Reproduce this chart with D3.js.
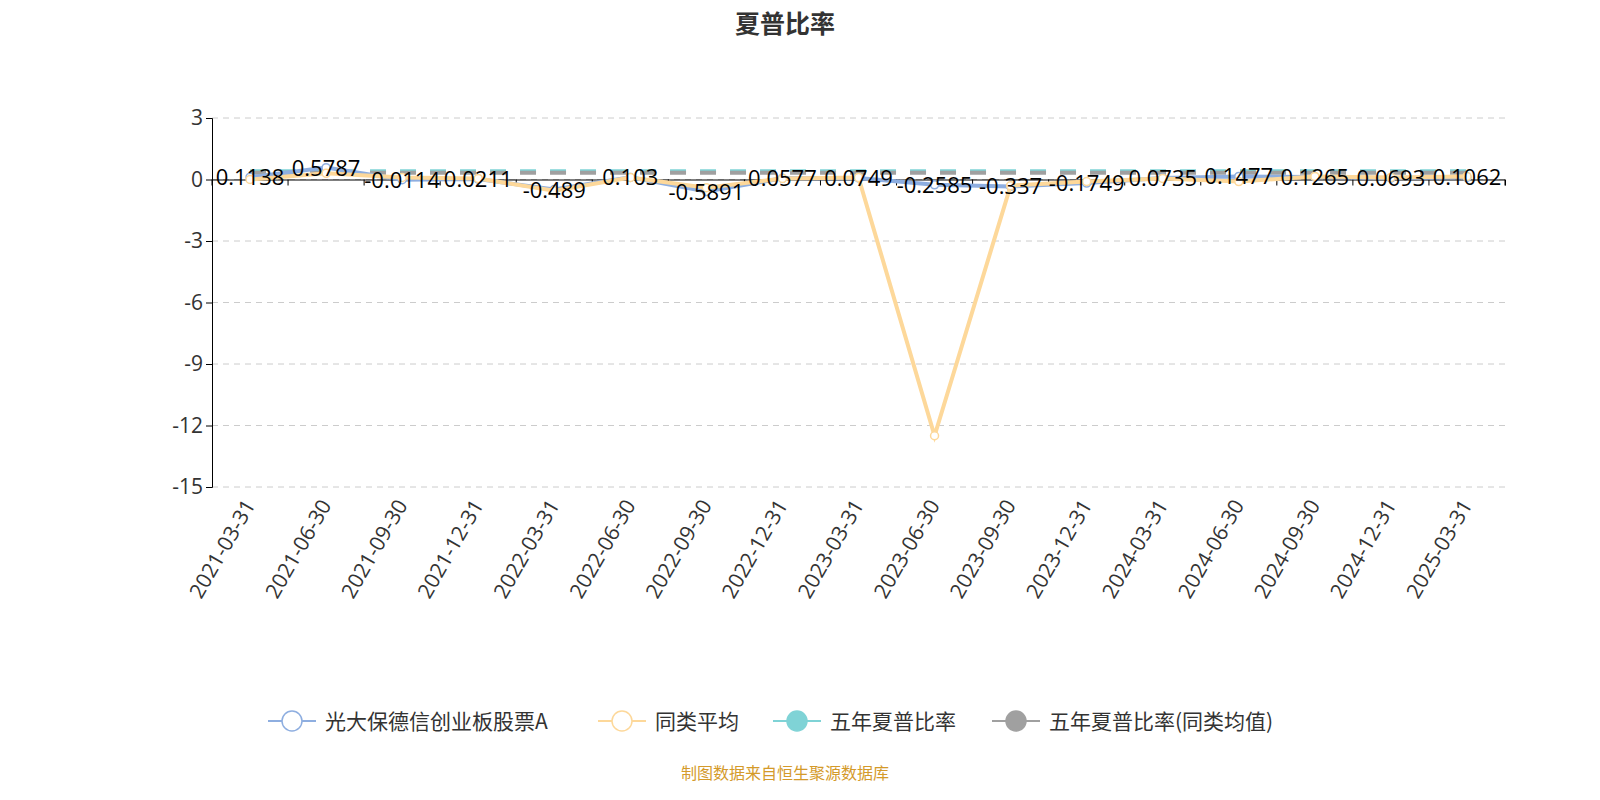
<!DOCTYPE html>
<html><head><meta charset="utf-8">
<script src="https://cdn.jsdelivr.net/npm/d3@7"></script>
<style>body{margin:0;background:#fff;font-family:"Noto Sans CJK SC","Noto Sans",sans-serif}</style>
</head><body><svg id="c" width="1600" height="800"></svg>
<script>
const dates = ["2021-03-31","2021-06-30","2021-09-30","2021-12-31","2022-03-31","2022-06-30","2022-09-30","2022-12-31","2023-03-31","2023-06-30","2023-09-30","2023-12-31","2024-03-31","2024-06-30","2024-09-30","2024-12-31","2025-03-31"];
const fund = [0.1138,0.5787,-0.0114,0.0211,-0.489,0.103,-0.5891,0.0577,0.0749,-0.2585,-0.337,-0.1749,0.0735,0.1477,0.1265,0.0693,0.1062];
const peer = [0.0,0.3,0.1,0.05,-0.55,0.1,-0.4,0.05,0.1,-12.5,-0.3,-0.1,0.05,-0.1,0.15,0.1,0.15];
const fiveYear = 0.4;
const fiveYearPeer = 0.33;
const yTicks = [3,0,-3,-6,-9,-12,-15];
const legendNames = ["光大保德信创业板股票A","同类平均","五年夏普比率","五年夏普比率(同类均值)"];
const colors = ["#8eaee0","#fdd89a","#7fd3d6","#a0a0a0"];

const svg = d3.select("#c");
const L = 212, R = 1505, T = 118, B = 487;
const x = d3.scaleBand().domain(dates).range([L, R]);
const y = d3.scaleLinear().domain([-15, 3]).range([B, T]);
const cx = d => x(d) + x.bandwidth() / 2;

svg.append("text").attr("x", 785).attr("y", 33).attr("text-anchor", "middle")
  .attr("font-size", 25).attr("font-weight", "bold").attr("fill", "#333").text("夏普比率");

// grid
svg.selectAll(".g").data(yTicks).join("line")
  .attr("x1", L).attr("x2", R).attr("y1", d => y(d)).attr("y2", d => y(d))
  .attr("stroke", "#ccc").attr("stroke-dasharray", "6,5");

const ya = svg.append("g").attr("transform", `translate(${L},0)`)
  .call(d3.axisLeft(y).tickValues(yTicks).tickSize(6).tickFormat(d => String(d)));
ya.selectAll("text").attr("font-size", 21).attr("fill", "#333").attr("font-family", "Open Sans, sans-serif");
ya.selectAll("line,path").attr("stroke", "#000");

const xa = svg.append("g").attr("transform", `translate(0,${y(0)})`)
  .call(d3.axisBottom(x).tickSize(6).tickFormat(""));
xa.selectAll("line,path").attr("stroke", "#000");
xa.selectAll(".tick line").attr("transform", `translate(${x.bandwidth()/2},0)`);
xa.append("line").attr("x1", L).attr("x2", L).attr("y1", 0).attr("y2", 6).attr("stroke", "#000");

svg.selectAll(".xl").data(dates).join("text")
  .attr("transform", d => `translate(${cx(d) + 6},${B + 18}) rotate(-60)`)
  .attr("text-anchor", "end").attr("font-size", 21).attr("fill", "#333")
  .attr("font-family", "Open Sans, sans-serif").text(d => d);

// five-year dashed lines
[[fiveYear, colors[2]], [fiveYearPeer, colors[3]]].forEach(([v, c]) => {
  svg.append("line").attr("x1", cx(dates[0])).attr("x2", cx(dates[dates.length-1]))
    .attr("y1", y(v)).attr("y2", y(v)).attr("stroke", c).attr("stroke-width", 4)
    .attr("stroke-dasharray", "16,14");
});

const line = d3.line().x((d, i) => cx(dates[i])).y(d => y(d));
[[fund, colors[0]], [peer, colors[1]]].forEach(([s, c]) => {
  svg.append("path").datum(s).attr("d", line).attr("fill", "none").attr("stroke", c).attr("stroke-width", 4);
  svg.selectAll(null).data(s).join("circle").attr("cx", (d, i) => cx(dates[i])).attr("cy", d => y(d))
    .attr("r", 4).attr("fill", "#fff").attr("stroke", c).attr("stroke-width", 1.5);
});

svg.selectAll(".lab").data(fund).join("text")
  .attr("x", (d, i) => cx(dates[i])).attr("y", d => y(d) + 8)
  .attr("text-anchor", "middle").attr("font-size", 22).attr("fill", "#000")
  .attr("font-family", "Open Sans, sans-serif").text(d => d);

// legend
const lx = [268, 598, 773, 992];
legendNames.forEach((n, i) => {
  const g = svg.append("g").attr("transform", `translate(${lx[i]},721)`);
  g.append("line").attr("x1", 0).attr("x2", 48).attr("stroke", colors[i]).attr("stroke-width", 2);
  g.append("circle").attr("cx", 24).attr("r", 10).attr("fill", i < 2 ? "#fff" : colors[i])
    .attr("stroke", colors[i]).attr("stroke-width", 1.5);
  g.append("text").attr("x", 57).attr("y", 8).attr("font-size", 21).attr("fill", "#333").text(n);
});

svg.append("text").attr("x", 785).attr("y", 779).attr("text-anchor", "middle")
  .attr("font-size", 16).attr("fill", "#d49a2a").text("制图数据来自恒生聚源数据库");
</script></body></html>
